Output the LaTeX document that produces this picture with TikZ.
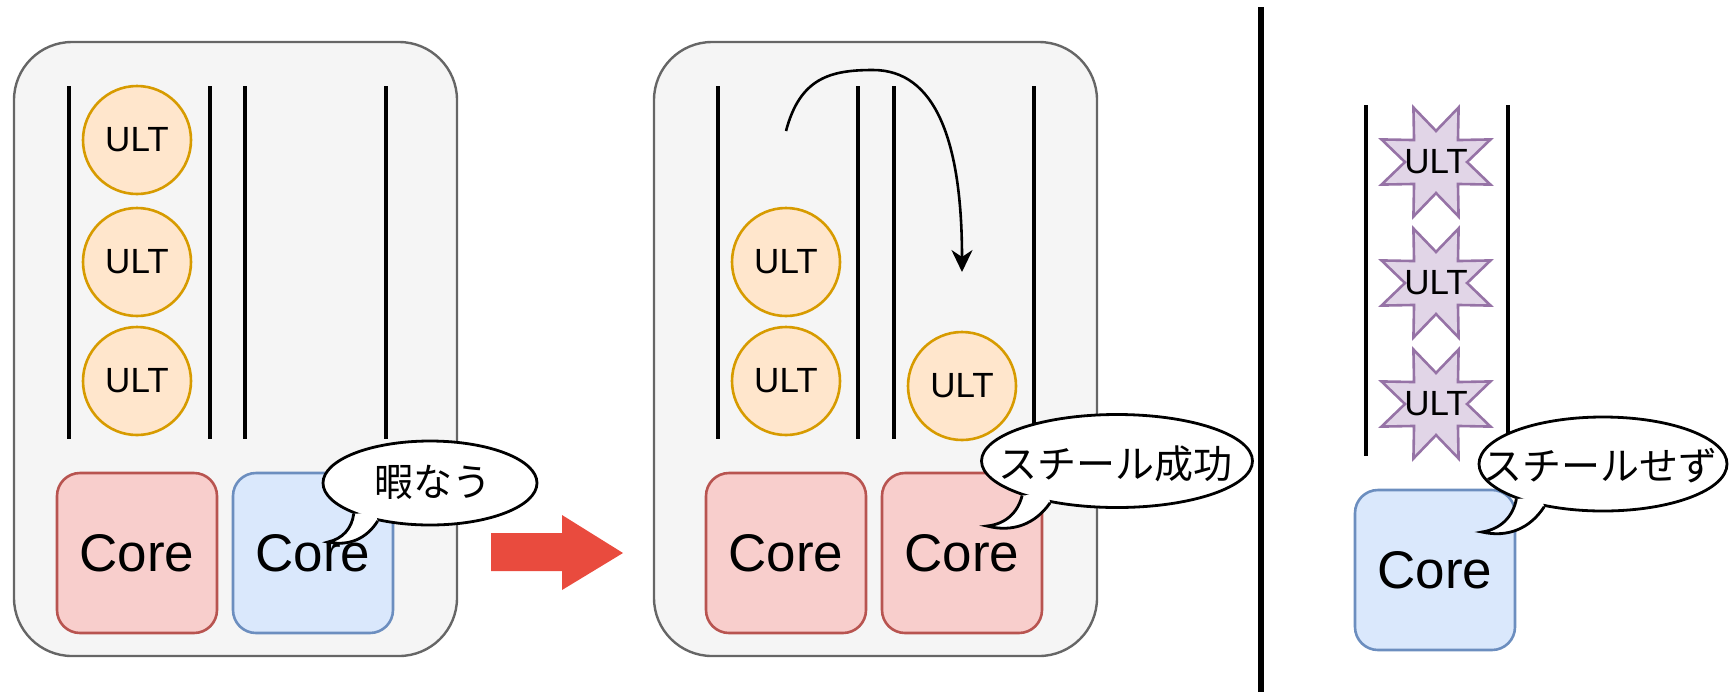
\documentclass[tikz,border=0pt]{standalone}
\usepackage{fontspec}
\setmainfont{Liberation Sans}
\newfontfamily\jpfont{Noto Sans CJK JP}
\usetikzlibrary{shapes.geometric,arrows.meta,calc}

\definecolor{panelfill}{HTML}{F5F5F5}
\definecolor{panelline}{HTML}{666666}
\definecolor{ultfill}{HTML}{FFE6CC}
\definecolor{ultline}{HTML}{D79B00}
\definecolor{deadfill}{HTML}{E1D5E7}
\definecolor{deadline}{HTML}{9673A6}
\definecolor{busyfill}{HTML}{F8CECC}
\definecolor{busyline}{HTML}{B85450}
\definecolor{idlefill}{HTML}{DAE8FC}
\definecolor{idleline}{HTML}{6C8EBF}
\definecolor{gored}{HTML}{E94B3E}

\begin{document}
\begin{tikzpicture}
  [x=0.5pt,y=-0.5pt,
   panel/.style={draw=panelline,fill=panelfill,line width=1.2pt,rounded corners=29pt},
   queue/.style={line width=2.3pt},
   ulttext/.style={inner sep=0pt,font=\fontsize{17.5}{20}\selectfont},
   ult/.style={circle,draw=ultline,fill=ultfill,line width=1.3pt,minimum size=54pt,ulttext},
   dead/.style={star,star points=8,star point ratio=1.9,shape border rotate=22.5,draw=deadline,fill=deadfill,line width=1.3pt,minimum size=59pt,inner sep=0pt,label={[ulttext]center:ULT}},
   core/.style={rounded corners=11.5pt,minimum size=80pt,line width=1.3pt,font=\fontsize{26.5}{30}\selectfont},
   busy/.style={core,draw=busyline,fill=busyfill},
   idle/.style={core,draw=idleline,fill=idlefill},
   bubble/.style={ellipse,draw,fill=white,line width=1.4pt,inner sep=0pt},
   say/.style={inner sep=0pt,font=\jpfont\fontsize{19.5}{22}\selectfont}]
  \useasboundingbox (0,0) rectangle (1729,692);

  \draw [panel] (14,42) rectangle (457,656);
  \draw [panel] (654,42) rectangle (1097,656);

  \foreach \x in {69,210,245,386,718,858,894,1034}
    \draw [queue] (\x,86) -- (\x,439);
  \foreach \x in {1366,1508}
    \draw [queue] (\x,105) -- (\x,456);

  \node [ult] (u1) at (137,140) {ULT};
  \node [ult] (u2) at (137,262) {ULT};
  \node [ult] (u3) at (137,381) {ULT};
  \node [ult] (u4) at (786,262) {ULT};
  \node [ult] (u5) at (786,381) {ULT};
  \node [ult] (u6) at (962,386) {ULT};

  \node [dead] (s1) at (1436,162) {};
  \node [dead] (s2) at (1436,283) {};
  \node [dead] (s3) at (1436,404) {};

  \node [busy] (c1) at (137,553) {Core};
  \node [idle] (c2) at (313,553) {Core};
  \node [busy] (c3) at (786,553) {Core};
  \node [busy] (c4) at (962,553) {Core};
  \node [idle] (c5) at (1435,570) {Core};

  \coordinate (from) at (786,131);
  \coordinate (to) at (962,272);
  \draw [line width=1.3pt,-{Stealth[length=11pt,width=10.5pt,inset=3.5pt]}]
    (from) .. controls (800,78) and (830,70) .. (873,70)
    .. controls (935,70) and (962,140) .. (to);

  \fill [gored] (491,533) -- (562,533) -- (562,515) -- (623,553)
    -- (562,590) -- (562,571) -- (491,571) -- cycle;

  \draw [line width=3pt] (1261,7) -- (1261,692);

  \node [bubble,minimum width=107pt,minimum height=42pt] (b1) at (430,483) {};
  \node [bubble,minimum width=135.5pt,minimum height=46.5pt] (b2) at (1117,461) {};
  \node [bubble,minimum width=124pt,minimum height=47pt] (b3) at (1603,464) {};
  \coordinate (p1) at (328,542);
  \coordinate (p2) at (987,526);
  \coordinate (p3) at (1482,532);

  \foreach \b/\p/\i/\j in {b1/p1/202/216,b2/p2/200/212,b3/p3/202/216}{
    \fill [white] (\b.\i) to[bend left=35] (\p) to[bend right=35] (\b.\j)
      -- ($(\b.\i)!0.5!(\b.\j)!0.15!(\b.center)$) -- cycle;
    \draw [line width=1.4pt] (\b.\i) to[bend left=35] (\p) to[bend right=35] (\b.\j);
  }

  \node [say] (m1) at (433,482) {暇なう};
  \node [say] (m2) at (1115,464) {スチール成功};
  \node [say] (m3) at (1600,466) {スチールせず};

\end{tikzpicture}
\end{document}
